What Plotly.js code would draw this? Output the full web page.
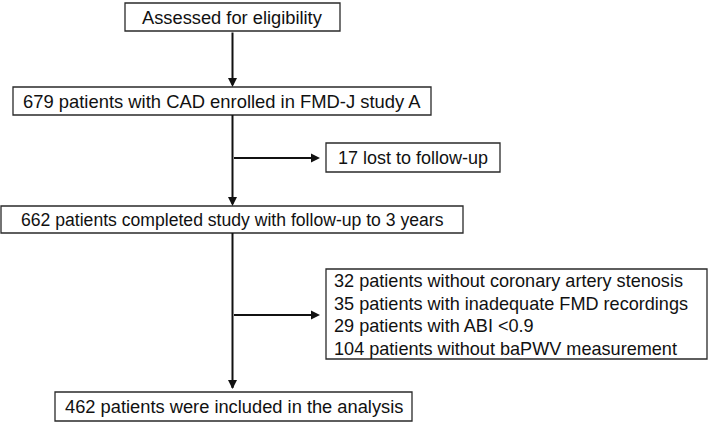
<!DOCTYPE html>
<html>
<head>
<meta charset="utf-8">
<script src="https://cdn.plot.ly/plotly-3.0.1.min.js"></script>
<style>html,body{margin:0;padding:0;background:#fff;}#chart{width:709px;height:422px;}</style>
</head>
<body>
<div id="chart"></div>
<script>
// ---- data ----
var stageLabels = [
  "Assessed for eligibility",
  "679 patients with CAD enrolled in FMD-J study A",
  "662 patients completed study with follow-up to 3 years",
  "462 patients were included in the analysis"
];
var lostLabel = "17 lost to follow-up";
var exclusionLabels = [
  "32 patients without coronary artery stenosis",
  "35 patients with inadequate FMD recordings",
  "29 patients with ABI <0.9",
  "104 patients without baPWV measurement"
];

// ---- layout geometry (pixels, y downward) ----
var stageBoxes = [
  {x0:125, x1:340, y0:3,   y1:31},
  {x0:13,  x1:431, y0:87,  y1:115},
  {x0:1,   x1:463, y0:206, y1:233},
  {x0:55,  x1:412, y0:392, y1:421}
];
var stageFontSizes = [18.3, 18.4, 17.6, 18.3];
var lostBox = {x0:326, x1:500, y0:143, y1:172};
var lostFontSize = 18;
var exclBox = {x0:326, x1:707, y0:269, y1:359};
var exclFontSize = 18.1;
var spineX = 232.5;
var lostBranchY = 158;
var exclBranchY = 315;

var FONT = "Liberation Sans, Arial, sans-serif";
var shapes = [];
var annotations = [];

function box(b){
  shapes.push({type:'rect', xref:'x', yref:'y', x0:b.x0, x1:b.x1, y0:b.y0, y1:b.y1,
    line:{color:'#2a2a2a', width:1.3}, fillcolor:'rgba(0,0,0,0)'});
}
function label(text, x, y, size, anchor){
  annotations.push({xref:'x', yref:'y', x:x, y:y, text:text, showarrow:false,
    xanchor:anchor||'center', yanchor:'middle',
    font:{family:FONT, size:size, color:'#111'}});
}
function arrow(x0,y0,x1,y1){
  annotations.push({xref:'x', yref:'y', axref:'x', ayref:'y', x:x1, y:y1, ax:x0, ay:y0,
    text:'', showarrow:true, arrowhead:2, arrowsize:0.9, arrowwidth:2, arrowcolor:'#111',
    standoff:0, startstandoff:0});
}
function line(x0,y0,x1,y1){
  shapes.push({type:'line', xref:'x', yref:'y', x0:x0, y0:y0, x1:x1, y1:y1,
    line:{color:'#111', width:2}});
}

stageBoxes.forEach(function(b,i){
  box(b);
  label(stageLabels[i], (b.x0+b.x1)/2, (b.y0+b.y1)/2, stageFontSizes[i]);
});
box(lostBox);
label(lostLabel, (lostBox.x0+lostBox.x1)/2, (lostBox.y0+lostBox.y1)/2, lostFontSize);
box(exclBox);
var lineH = (exclBox.y1-exclBox.y0)/exclusionLabels.length;
exclusionLabels.forEach(function(t,i){
  label(t, exclBox.x0+6, exclBox.y0+lineH*(i+0.5)+1, exclFontSize, 'left');
});

// connectors
arrow(spineX, stageBoxes[0].y1, spineX, stageBoxes[1].y0);
line(spineX, stageBoxes[1].y1, spineX, stageBoxes[2].y0-4);
arrow(spineX, stageBoxes[2].y0-10, spineX, stageBoxes[2].y0);
arrow(spineX, lostBranchY, lostBox.x0-6, lostBranchY);
line(spineX, stageBoxes[2].y1, spineX, stageBoxes[3].y0-4);
arrow(spineX, stageBoxes[3].y0-10, spineX, stageBoxes[3].y0-3);
arrow(spineX, exclBranchY, exclBox.x0-6, exclBranchY);

var layout = {
  width:709, height:422,
  margin:{l:0,r:0,t:0,b:0},
  paper_bgcolor:'#fff', plot_bgcolor:'#fff',
  showlegend:false,
  xaxis:{range:[0,709], visible:false, fixedrange:true},
  yaxis:{range:[422,0], visible:false, fixedrange:true},
  shapes:shapes,
  annotations:annotations
};
Plotly.newPlot('chart', [], layout, {staticPlot:true, displayModeBar:false});
</script>
</body>
</html>
